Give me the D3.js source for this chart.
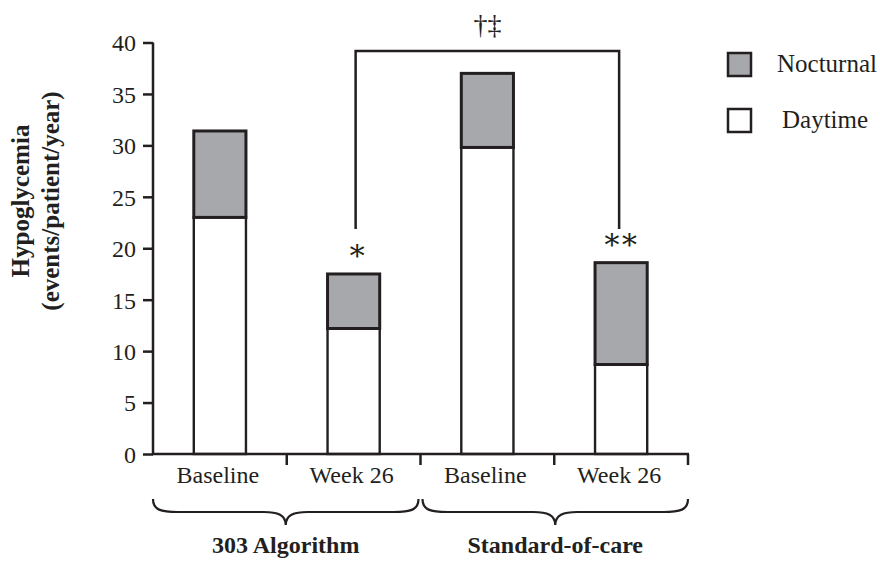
<!DOCTYPE html>
<html><head><meta charset="utf-8">
<script src="https://cdn.jsdelivr.net/npm/d3@7"></script>
<style>body{margin:0;background:#fff}svg{display:block}</style>
</head><body>
<script>
const categories = ["Baseline","Week 26","Baseline","Week 26"];
const groups = ["303 Algorithm","Standard-of-care"];
const groupOf = [0,0,1,1];
const daytime = [23.0, 12.2, 29.8, 8.7];
const nocturnal = [8.4, 5.3, 7.2, 9.9];
const yTicks = [0,5,10,15,20,25,30,35,40];
const seriesNames = ["Nocturnal","Daytime"];
const sigStars = ["","*","","**"];
const sigBracket = "†‡";

const FONT = "'Liberation Serif', 'DejaVu Serif', serif";
const W=880,H=561, ink="#231f20", grey="#a7a8ab";
const svg=d3.select("body").append("svg").attr("width",W).attr("height",H)
  .attr("font-family",FONT).style("font-family",FONT);
const x=d3.scaleBand().domain(d3.range(categories.length)).range([153,688]).paddingInner(0).paddingOuter(0);
const y=d3.scaleLinear().domain([0,40]).range([454,42.5]);
const bw = x.bandwidth()*0.39;
const cx = i => x(i)+x.bandwidth()/2;
const T = sel => sel.append("text").style("font-family",FONT).attr("fill",ink);

// bars
const g=svg.append("g");
categories.forEach((c,i)=>{
  const tot=daytime[i]+nocturnal[i];
  g.append("rect").attr("x",cx(i)-bw/2).attr("y",y(daytime[i])).attr("width",bw).attr("height",y(0)-y(daytime[i]))
    .attr("fill","#fff").attr("stroke",ink).attr("stroke-width",2.4);
  g.append("rect").attr("x",cx(i)-bw/2).attr("y",y(tot)).attr("width",bw).attr("height",y(daytime[i])-y(tot))
    .attr("fill",grey).attr("stroke",ink).attr("stroke-width",3);
});

// y axis
const ya=svg.append("g").attr("transform","translate(153,0)").call(d3.axisLeft(y).tickValues(yTicks).tickSize(10).tickPadding(7));
ya.attr("font-family",FONT);
ya.select(".domain").attr("d",`M0,${y(40)}V${y(0)}`).attr("stroke",ink).attr("stroke-width",2.5);
ya.selectAll(".tick line").attr("stroke",ink).attr("stroke-width",2.5);
ya.selectAll(".tick text").style("font-family",FONT).attr("font-size",24).attr("fill",ink).attr("dy","0.35em");

// x axis
svg.append("line").attr("x1",153-1).attr("x2",688+1).attr("y1",y(0)).attr("y2",y(0)).attr("stroke",ink).attr("stroke-width",2.5);
d3.range(1,categories.length+1).forEach(k=>{
  const xx = k<categories.length ? x(k) : x(k-1)+x.bandwidth();
  svg.append("line").attr("x1",xx).attr("x2",xx).attr("y1",y(0)).attr("y2",y(0)+11).attr("stroke",ink).attr("stroke-width",2.5);
});
categories.forEach((c,i)=>{
  T(svg).attr("x",cx(i)-2).attr("y",483).attr("text-anchor","middle").attr("font-size",24).text(c);
});

// braces + group labels
groups.forEach((gname,gi)=>{
  const idx=d3.range(categories.length).filter(i=>groupOf[i]===gi);
  const x0=x(idx[0])+(gi===0?0:2), x1=x(idx[idx.length-1])+x.bandwidth()-(gi===0?2:0), xm=(x0+x1)/2;
  const y0=499, ym=512, yt=525;
  const p=`M${x0},${y0} C${x0},${ym-2} ${x0+8},${ym} ${x0+25},${ym} L${xm-22},${ym} C${xm-8},${ym} ${xm},${ym+3} ${xm},${yt} C${xm},${ym+3} ${xm+8},${ym} ${xm+22},${ym} L${x1-25},${ym} C${x1-8},${ym} ${x1},${ym-2} ${x1},${y0}`;
  svg.append("path").attr("d",p).attr("fill","none").attr("stroke",ink).attr("stroke-width",2.2);
  T(svg).attr("x",xm).attr("y",553).attr("text-anchor","middle").attr("font-size",24).attr("font-weight","bold").text(gname);
});

// significance bracket
const bx1=cx(1)+2, bx2=cx(3)-2, by=51;
svg.append("path").attr("d",`M${bx1},229 V${by} H${bx2} V229`).attr("fill","none").attr("stroke",ink).attr("stroke-width",2.5);
T(svg).attr("x",(bx1+bx2)/2).attr("y",34).attr("text-anchor","middle").attr("font-size",28).text(sigBracket);
sigStars.forEach((s,i)=>{
  if(!s) return;
  const xs = i===1?bx1:bx2;
  T(svg).attr("x",xs).attr("y",y(daytime[i]+nocturnal[i])-14).attr("text-anchor","middle")
    .attr("font-size",30).attr("letter-spacing",-3).text(s.replace(/\*/g,"∗"));
});

// y title
const yt=T(svg).attr("transform","translate(0,201) rotate(-90)").attr("text-anchor","middle").attr("font-weight","bold").attr("font-size",25);
yt.append("tspan").attr("x",0).attr("y",29).text("Hypoglycemia");
yt.append("tspan").attr("x",0).attr("y",59).text("(events/patient/year)");

// legend
const leg=[{n:seriesNames[0],f:grey,y:53},{n:seriesNames[1],f:"#fff",y:109}];
leg.forEach(l=>{
  svg.append("rect").attr("x",728).attr("y",l.y).attr("width",23).attr("height",23).attr("fill",l.f).attr("stroke",ink).attr("stroke-width",2.5);
  T(svg).attr("x",l.n==="Nocturnal"?777:782).attr("y",l.y+19).attr("font-size",25).text(l.n);
});
</script>
</body></html>
